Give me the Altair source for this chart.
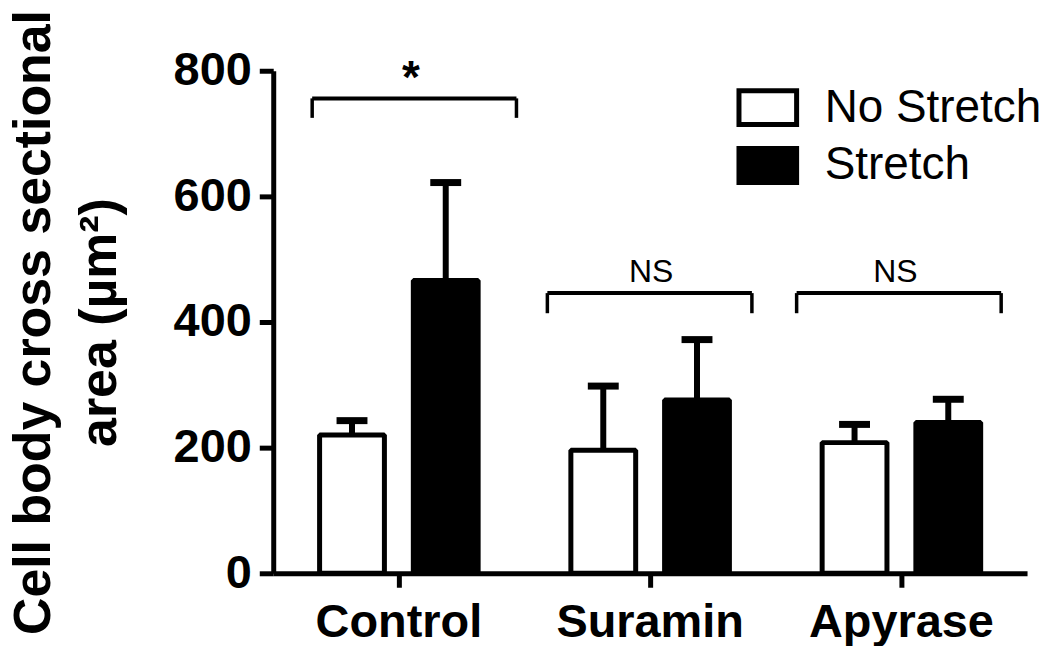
import altair as alt
import pandas as pd

# ---- data ----
groups = ["Control", "Suramin", "Apyrase"]
conditions = ["No Stretch", "Stretch"]
no_stretch_mean = [220, 196, 208]
no_stretch_sd = [23, 102, 29]
stretch_mean = [466, 276, 240]
stretch_sd = [156, 96, 37]
y_ticks = [0, 200, 400, 600, 800]

# significance brackets (x in group units: group i spans i .. i+1)
bracket_left = [0.155, 1.091, 2.083]
bracket_right = [0.968, 1.905, 2.897]
bracket_top = [756, 446, 446]
bracket_foot = [725, 414, 414]
sig_labels = ["*", "NS", "NS"]
sig_x = [0.548, 1.504, 2.476]
sig_y = [764, 464, 464]

FONT = "Liberation Sans, Arial, Helvetica, sans-serif"

rows = []
for i, g in enumerate(groups):
    rows.append({"group": g, "cond": conditions[0], "mean": no_stretch_mean[i],
                 "top": no_stretch_mean[i] + no_stretch_sd[i]})
    rows.append({"group": g, "cond": conditions[1], "mean": stretch_mean[i],
                 "top": stretch_mean[i] + stretch_sd[i]})
df = pd.DataFrame(rows)

br_df = pd.DataFrame({"x1": bracket_left, "x2": bracket_right,
                      "yt": bracket_top, "yf": bracket_foot})
feet_df = pd.DataFrame({"x": bracket_left + bracket_right,
                        "yt": bracket_top + bracket_top,
                        "yf": bracket_foot + bracket_foot})
sig_df = pd.DataFrame({"label": sig_labels, "x": sig_x, "y": sig_y})

x_axis = alt.Axis(title=None, labelAngle=0, labelFontSize=47,
                  labelFontWeight="bold", labelFont=FONT,
                  labelColor="black", labelPadding=12, labelLimit=400,
                  tickSize=14, tickWidth=5, tickColor="black",
                  domainWidth=5, domainColor="black", grid=False)
x_enc = alt.X("group:N", sort=groups,
              scale=alt.Scale(paddingInner=0, paddingOuter=0), axis=x_axis)
xoff = alt.XOffset("cond:N", sort=conditions,
                   scale=alt.Scale(paddingInner=0.3085, paddingOuter=0.4947))
y_scale = alt.Scale(domain=[0, 800], nice=False, zero=True)
y_axis = alt.Axis(values=y_ticks, grid=False,
                  title=["Cell body cross sectional", "area (µm²)"],
                  titleFont=FONT, titleFontSize=52, titleFontWeight="bold",
                  titleColor="black", titleAngle=270, titleBaseline="top",
                  titleAlign="center", titleX=-265, titleY=252,
                  titleLineHeight=66,
                  labelFont=FONT, labelFontSize=47, labelFontWeight="bold",
                  labelColor="black", labelPadding=8,
                  tickSize=14, tickWidth=5, tickColor="black",
                  domainWidth=5, domainColor="black")

base = alt.Chart(df)

bars = base.mark_bar(stroke="black", strokeWidth=5, strokeJoin="bevel").encode(
    x=x_enc, xOffset=xoff, y=alt.Y("mean:Q", scale=y_scale, axis=y_axis),
    fill=alt.Fill("cond:N", sort=conditions,
                  scale=alt.Scale(domain=conditions, range=["white", "black"]),
                  legend=alt.Legend(title=None, orient="none", legendX=473, legendY=14,
                                    symbolType="M-1.7,-1H1.7V1H-1.7Z", symbolSize=1156,
                                    symbolStrokeWidth=5, symbolStrokeColor="black",
                                    symbolOpacity=1, labelFont=FONT, labelFontSize=46,
                                    labelColor="black", labelOffset=34, rowPadding=4,
                                    labelLimit=400, padding=0)))

err = base.mark_rule(strokeWidth=6, color="black").encode(
    x=x_enc, xOffset=xoff, y=alt.Y("mean:Q", scale=y_scale, axis=y_axis), y2="top:Q")

caps = base.mark_tick(orient="horizontal", size=31, thickness=7, color="black",
                      opacity=1).encode(
    x=x_enc, xOffset=xoff, y=alt.Y("top:Q", scale=y_scale, axis=y_axis))

main = alt.layer(bars, err, caps)

xq = alt.Scale(domain=[0, 3], nice=False, zero=False)

hbr = alt.Chart(br_df).mark_rule(strokeWidth=4, color="black").encode(
    x=alt.X("x1:Q", scale=xq, axis=None), x2="x2:Q",
    y=alt.Y("yt:Q", scale=y_scale, axis=y_axis))
feet = alt.Chart(feet_df).mark_rule(strokeWidth=3.5, color="black").encode(
    x=alt.X("x:Q", scale=xq, axis=None),
    y=alt.Y("yt:Q", scale=y_scale, axis=y_axis), y2="yf:Q")
star = alt.Chart(sig_df).transform_filter(alt.datum.label == "*").mark_text(
    font=FONT, fontSize=46, fontWeight="bold", color="black", baseline="alphabetic"
).encode(x=alt.X("x:Q", scale=xq, axis=None),
         y=alt.Y("y:Q", scale=y_scale, axis=y_axis),
         text="label:N")
ns = alt.Chart(sig_df).transform_filter(alt.datum.label == "NS").mark_text(
    font=FONT, fontSize=32, color="black", baseline="alphabetic"
).encode(x=alt.X("x:Q", scale=xq, axis=None),
         y=alt.Y("y:Q", scale=y_scale, axis=y_axis),
         text="label:N")

ann = alt.layer(hbr, feet, star, ns)

chart = alt.layer(main, ann).resolve_scale(x="independent").properties(
    width=756, height=504, padding=0, background="white"
).configure_view(strokeWidth=0).configure_axis(grid=False)

chart.save("out.html", embed_options={"renderer": "svg", "actions": False})
